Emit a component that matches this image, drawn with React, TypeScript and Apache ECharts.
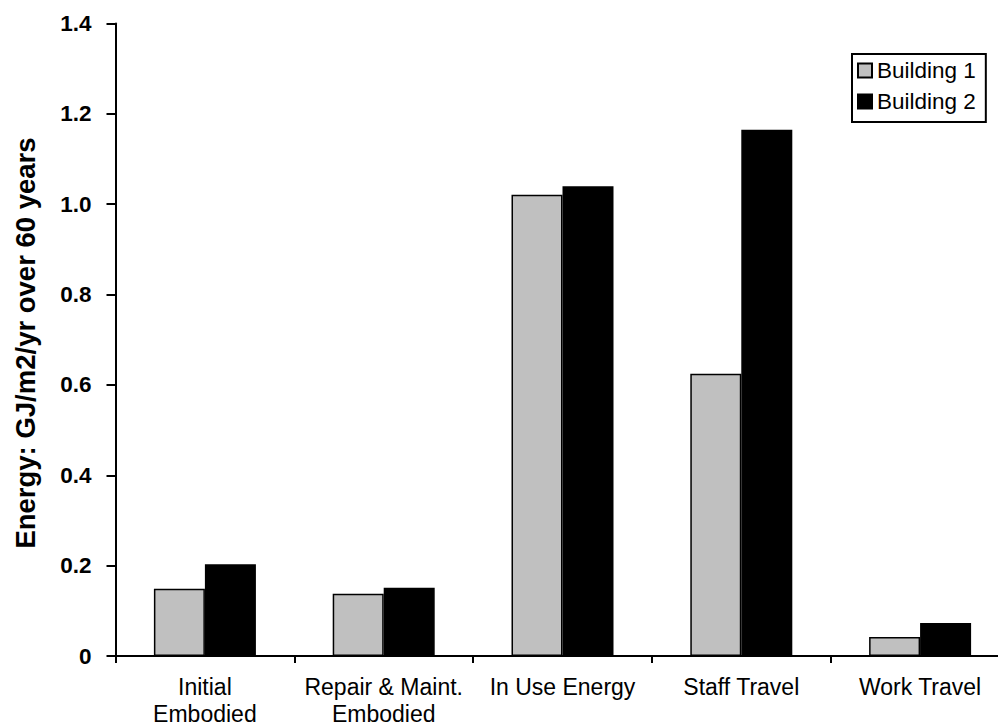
import React, { useEffect, useRef } from "react";
import * as echarts from "echarts";

const categories = [
  "Initial\nEmbodied",
  "Repair & Maint.\nEmbodied",
  "In Use Energy",
  "Staff Travel",
  "Work Travel",
];
const building1 = [0.149, 0.138, 1.021, 0.625, 0.042];
const building2 = [0.203, 0.151, 1.04, 1.165, 0.073];
const seriesNames = ["Building 1", "Building 2"];
const yTitle = "Energy: GJ/m2/yr over 60 years";

const FONT = "'Liberation Sans', Arial, Helvetica, sans-serif";

export default function App() {
  const ref = useRef<HTMLDivElement>(null);
  useEffect(() => {
    if (!ref.current) return;
    const chart = echarts.init(ref.current, undefined, { renderer: "svg" });
    chart.setOption({
      animation: false,
      backgroundColor: "#ffffff",
      grid: {
        left: 115.5,
        width: 894,
        top: 23.5,
        bottom: 71,
        containLabel: false,
        outerBoundsMode: "none",
      },
      legend: {
        orient: "vertical",
        left: 852,
        top: 54,
        padding: [5, 10, 9, 5],
        itemGap: 8,
        itemWidth: 14,
        itemHeight: 14,
        borderColor: "#000",
        borderWidth: 2,
        backgroundColor: "#fff",
        icon: "rect",
        textStyle: { fontFamily: FONT, fontSize: 22.5, color: "#000", lineHeight: 22 },
        data: seriesNames,
      },
      xAxis: {
        type: "category",
        data: categories,
        axisLine: { lineStyle: { color: "#000", width: 2 } },
        axisTick: { show: true, length: 7, lineStyle: { color: "#000", width: 2 } },
        axisLabel: {
          fontFamily: FONT,
          fontSize: 23,
          color: "#000",
          margin: 17,
          lineHeight: 27,
          interval: 0,
        },
        splitLine: { show: false },
      },
      yAxis: {
        type: "value",
        min: 0,
        max: 1.4,
        interval: 0.2,
        axisLine: { show: true, lineStyle: { color: "#000", width: 2 } },
        axisTick: { show: true, length: 9, lineStyle: { color: "#000", width: 2 } },
        axisLabel: {
          fontFamily: FONT,
          fontSize: 22.5,
          fontWeight: "bold",
          color: "#000",
          margin: 24,
          formatter: (v: number) => (v === 0 ? "0" : v.toFixed(1)),
        },
        splitLine: { show: false },
      },
      graphic: [
        {
          type: "text",
          x: 25,
          y: 343,
          rotation: Math.PI / 2,
          style: {
            text: yTitle,
            fontFamily: FONT,
            fontSize: 27.5,
            fontWeight: "bold",
            fill: "#000",
            align: "center",
            verticalAlign: "middle",
          },
        },
      ],
      series: [
        {
          name: seriesNames[0],
          type: "bar",
          data: building1,
          barWidth: 51,
          barGap: "0%",
          itemStyle: { color: "#C0C0C0", borderColor: "#000", borderWidth: 1.5 },
        },
        {
          name: seriesNames[1],
          type: "bar",
          data: building2,
          barWidth: 51,
          barGap: "0%",
          itemStyle: { color: "#000", borderColor: "#000", borderWidth: 1.5 },
        },
      ],
    });
    return () => chart.dispose();
  }, []);
  return (
    <div
      ref={ref}
      style={{ position: "fixed", left: 0, top: 0, width: 998, height: 727, background: "#fff" }}
    />
  );
}
